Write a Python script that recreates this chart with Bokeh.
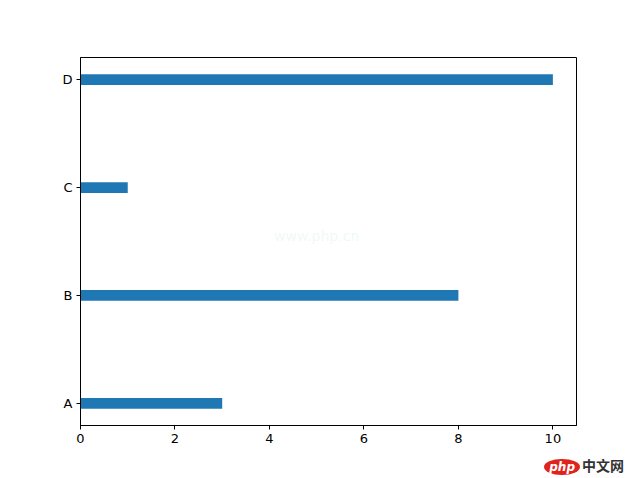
from bokeh.plotting import figure
from bokeh.models import Range1d, FixedTicker, Label, Div
from bokeh.layouts import column
from bokeh.embed import file_html
from bokeh.resources import INLINE

categories = ["A", "B", "C", "D"]
values = [3, 8, 1, 10]
positions = [0, 1, 2, 3]
x_ticks = [0, 2, 4, 6, 8, 10]

FONT = "DejaVu Sans"

fig = figure(width=624, height=450, output_backend="svg", toolbar_location=None,
             x_range=Range1d(0, 10.5), y_range=Range1d(-0.205, 3.205),
             min_border_left=80, min_border_right=48, min_border_top=57, min_border_bottom=25)

fig.hbar(y=positions, right=values, left=0, height=0.1, color="#1f77b4", line_color=None)

fig.xgrid.visible = False
fig.ygrid.visible = False
fig.outline_line_color = "black"
fig.outline_line_width = 1
fig.outline_line_alpha = 1

fig.xaxis.ticker = FixedTicker(ticks=x_ticks)
fig.yaxis.ticker = FixedTicker(ticks=positions)
fig.yaxis.major_label_overrides = {pos: c for pos, c in zip(positions, categories)}

for ax in (fig.xaxis[0], fig.yaxis[0]):
    ax.axis_line_color = "black"
    ax.major_tick_line_color = "black"
    ax.major_tick_out = 4
    ax.major_tick_in = 0
    ax.minor_tick_line_color = None
    ax.major_label_text_font = FONT
    ax.major_label_text_font_size = "13px"
    ax.major_label_text_color = "black"
    ax.major_label_standoff = 4

# faint watermark in the middle of the plot
fig.add_layout(Label(x=5.0, y=1.55, text="www.php.cn", text_align="center",
                     text_baseline="middle", text_font=FONT, text_font_size="14px",
                     text_color="#e6f5f0", text_alpha=0.6))

# logo at bottom right, below the chart
logo = Div(width=624, height=26, margin=(0, 0, 0, 0),
           text=('<div style="width:624px;text-align:right;white-space:nowrap;line-height:20px;padding-top:5px;">'
                 '<span style="display:inline-block;background:#e0231c;color:white;'
                 'border-radius:50%;font-family:\'DejaVu Sans\';font-style:italic;font-weight:bold;'
                 'font-size:12px;line-height:16px;padding:0 5px;">php</span>'
                 '<span style="font-family:\'Noto Sans CJK SC\';font-weight:bold;font-size:14px;'
                 'color:#333333;margin-left:2px;">中文网</span></div>'))

p = column(fig, logo, spacing=0)

open("out.html", "w").write(file_html(p, INLINE))
